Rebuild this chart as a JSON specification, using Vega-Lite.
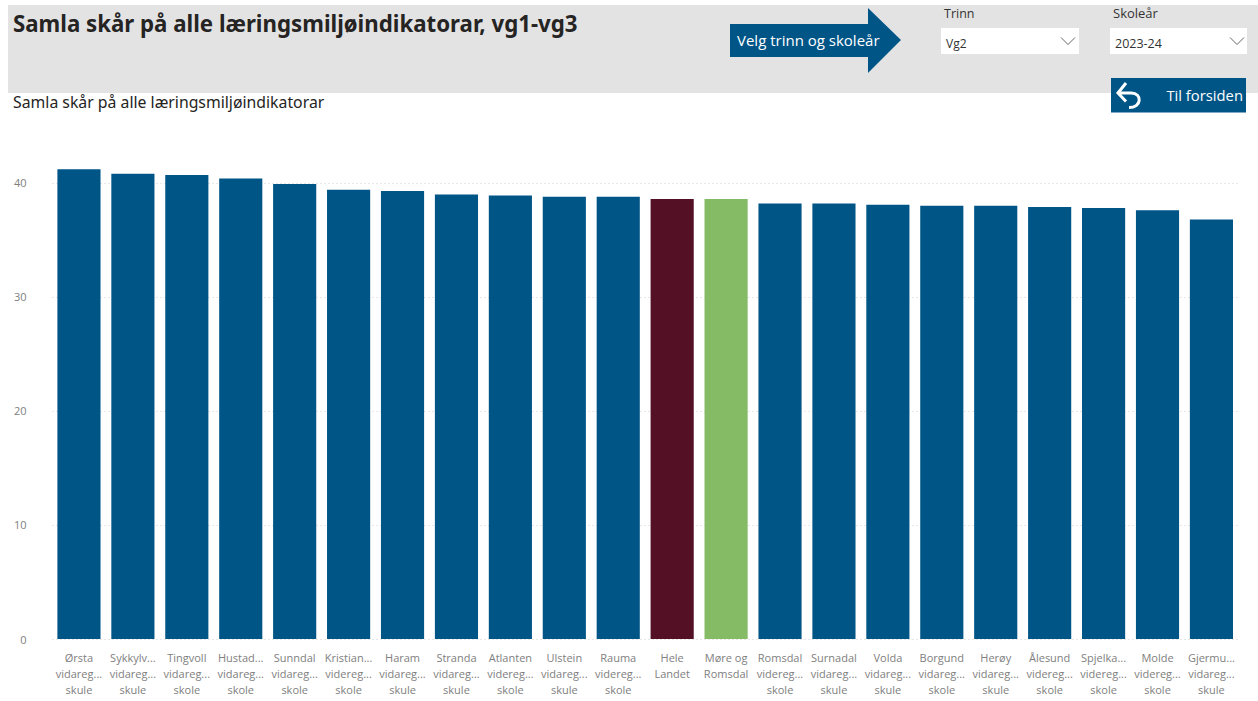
{
"$schema":"https://vega.github.io/schema/vega-lite/v6.json",
"width":1228,"height":639,
"autosize":"none",
"padding":{"left":30,"top":0,"right":0,"bottom":62},
"background":"#ffffff",
"config":{"view":{"stroke":null},"font":"Open Sans"},
"resolve":{"scale":{"x":"independent","y":"independent"}},
"layer":[
{"data":{"values":[
{"skole":"Ørsta|vidareg...|skule","skar":41.2,"gruppe":"Skole"},
{"skole":"Sykkylv...|vidareg...|skule","skar":40.8,"gruppe":"Skole"},
{"skole":"Tingvoll|vidareg...|skole","skar":40.7,"gruppe":"Skole"},
{"skole":"Hustad...|vidareg...|skole","skar":40.4,"gruppe":"Skole"},
{"skole":"Sunndal|vidareg...|skole","skar":39.9,"gruppe":"Skole"},
{"skole":"Kristian...|videreg...|skole","skar":39.4,"gruppe":"Skole"},
{"skole":"Haram|vidareg...|skule","skar":39.3,"gruppe":"Skole"},
{"skole":"Stranda|vidareg...|skule","skar":39.0,"gruppe":"Skole"},
{"skole":"Atlanten|videreg...|skole","skar":38.9,"gruppe":"Skole"},
{"skole":"Ulstein|vidareg...|skule","skar":38.8,"gruppe":"Skole"},
{"skole":"Rauma|videreg...|skole","skar":38.8,"gruppe":"Skole"},
{"skole":"Hele|Landet","skar":38.6,"gruppe":"Hele Landet"},
{"skole":"Møre og|Romsdal","skar":38.6,"gruppe":"Møre og Romsdal"},
{"skole":"Romsdal|videreg...|skole","skar":38.2,"gruppe":"Skole"},
{"skole":"Surnadal|vidareg...|skule","skar":38.2,"gruppe":"Skole"},
{"skole":"Volda|vidareg...|skule","skar":38.1,"gruppe":"Skole"},
{"skole":"Borgund|vidareg...|skole","skar":38.0,"gruppe":"Skole"},
{"skole":"Herøy|vidareg...|skule","skar":38.0,"gruppe":"Skole"},
{"skole":"Ålesund|videreg...|skole","skar":37.9,"gruppe":"Skole"},
{"skole":"Spjelka...|videreg...|skole","skar":37.8,"gruppe":"Skole"},
{"skole":"Molde|videreg...|skole","skar":37.6,"gruppe":"Skole"},
{"skole":"Gjermu...|vidareg...|skule","skar":36.8,"gruppe":"Skole"}
]},
 "mark":{"type":"bar"},
 "encoding":{
  "x":{"field":"skole","type":"nominal","sort":null,"title":null,
   "scale":{"range":[22,1208.4],"paddingInner":0.2,"paddingOuter":0.1},
   "axis":{"labelExpr":"split(datum.value,'|')","labelAngle":0,"labelAlign":"center","labelBaseline":"top","labelPadding":13,"labelLineHeight":16,"labelFontSize":11,"labelColor":"#808080","labelOverlap":false,"labelLimit":200,"ticks":false,"domain":false,"grid":false}},
  "y":{"field":"skar","type":"quantitative","title":null,
   "scale":{"domain":[0,56.05],"nice":false,"zero":true},
   "axis":{"values":[0,10,20,30,40],"ticks":false,"domain":false,"labelFontSize":11,"labelColor":"#808080","labelPadding":4,"labelOffset":1,"grid":true,"gridColor":"#cfcfcf","gridDash":[1,3],"gridWidth":1}},
  "color":{"field":"gruppe","type":"nominal","legend":null,
   "scale":{"domain":["Skole","Hele Landet","Møre og Romsdal"],"range":["#005587","#541025","#85bb65"]}}
 }},
{"data":{"values":[{}]},"layer":[
 {"mark":{"type":"rect","color":"#e3e3e3"},"encoding":{
  "x":{"datum":8,"type":"quantitative","axis":null,"scale":{"domain":[0,1258],"range":[-30,1228],"nice":false,"zero":false}},
  "x2":{"datum":1258},
  "y":{"datum":5,"type":"quantitative","axis":null,"scale":{"domain":[0,701],"range":[0,701],"nice":false,"zero":false}},
  "y2":{"datum":93}}},
 {"mark":{"type":"point","shape":"M-1,-0.187L0.614,-0.187L0.614,-0.374L1,0L0.614,0.386L0.614,0.199L-1,0.199Z","filled":true,"fill":"#005587","stroke":null,"opacity":1,"size":29241},"encoding":{
  "x":{"datum":815.5,"type":"quantitative","axis":null},
  "y":{"datum":40,"type":"quantitative","axis":null}}},
 {"mark":{"type":"rect","color":"#ffffff"},"encoding":{
  "x":{"datum":941,"type":"quantitative","axis":null},"x2":{"datum":1079},
  "y":{"datum":28,"type":"quantitative","axis":null},"y2":{"datum":54}}},
 {"mark":{"type":"rect","color":"#ffffff"},"encoding":{
  "x":{"datum":1110,"type":"quantitative","axis":null},"x2":{"datum":1247},
  "y":{"datum":28,"type":"quantitative","axis":null},"y2":{"datum":54}}},
 {"mark":{"type":"rect","color":"#005587"},"encoding":{
  "x":{"datum":1111,"type":"quantitative","axis":null},"x2":{"datum":1246},
  "y":{"datum":78,"type":"quantitative","axis":null},"y2":{"datum":112.5}}},
 {"mark":{"type":"point","shape":"M-1,-0.5L0,0.5L1,-0.5","filled":false,"stroke":"#666666","strokeWidth":1,"opacity":1,"size":196},"encoding":{
  "x":{"datum":1068,"type":"quantitative","axis":null},
  "y":{"datum":41,"type":"quantitative","axis":null}}},
 {"mark":{"type":"point","shape":"M-1,-0.5L0,0.5L1,-0.5","filled":false,"stroke":"#666666","strokeWidth":1,"opacity":1,"size":196},"encoding":{
  "x":{"datum":1237,"type":"quantitative","axis":null},
  "y":{"datum":41,"type":"quantitative","axis":null}}},
 {"mark":{"type":"point","shape":"M-0.25,-1L-0.92,-0.17L-0.25,0.55M-0.92,-0.17L0.2,-0.17C1.1,-0.17 1.1,1.05 0,1.05","filled":false,"stroke":"#ffffff","strokeWidth":3,"opacity":1,"size":576},"encoding":{
  "x":{"datum":1129,"type":"quantitative","axis":null},
  "y":{"datum":95,"type":"quantitative","axis":null}}},
 {"mark":{"type":"text","text":"Samla skår på alle læringsmiljøindikatorar, vg1-vg3","align":"left","baseline":"middle","font":"Noto Sans","fontWeight":"bold","fontSize":22.25,"color":"#252423"},"encoding":{
  "x":{"datum":13,"type":"quantitative","axis":null},
  "y":{"datum":25,"type":"quantitative","axis":null}}},
 {"mark":{"type":"text","text":"Samla skår på alle læringsmiljøindikatorar","align":"left","baseline":"middle","font":"Noto Sans","fontSize":15.8,"color":"#252423"},"encoding":{
  "x":{"datum":13,"type":"quantitative","axis":null},
  "y":{"datum":103,"type":"quantitative","axis":null}}},
 {"mark":{"type":"text","text":"Velg trinn og skoleår","align":"left","baseline":"middle","fontSize":15,"color":"#ffffff"},"encoding":{
  "x":{"datum":737,"type":"quantitative","axis":null},
  "y":{"datum":41,"type":"quantitative","axis":null}}},
 {"mark":{"type":"text","text":"Trinn","align":"left","baseline":"middle","fontSize":12.5,"color":"#333333"},"encoding":{
  "x":{"datum":944,"type":"quantitative","axis":null},
  "y":{"datum":14,"type":"quantitative","axis":null}}},
 {"mark":{"type":"text","text":"Skoleår","align":"left","baseline":"middle","fontSize":13,"color":"#333333"},"encoding":{
  "x":{"datum":1113,"type":"quantitative","axis":null},
  "y":{"datum":14,"type":"quantitative","axis":null}}},
 {"mark":{"type":"text","text":"Vg2","align":"left","baseline":"middle","fontSize":12,"color":"#333333"},"encoding":{
  "x":{"datum":946,"type":"quantitative","axis":null},
  "y":{"datum":44,"type":"quantitative","axis":null}}},
 {"mark":{"type":"text","text":"2023-24","align":"left","baseline":"middle","fontSize":12.5,"color":"#333333"},"encoding":{
  "x":{"datum":1115,"type":"quantitative","axis":null},
  "y":{"datum":44,"type":"quantitative","axis":null}}},
 {"mark":{"type":"text","text":"Til forsiden","align":"right","baseline":"middle","fontSize":14.8,"color":"#ffffff"},"encoding":{
  "x":{"datum":1243,"type":"quantitative","axis":null},
  "y":{"datum":97,"type":"quantitative","axis":null}}}
]}
]
}
